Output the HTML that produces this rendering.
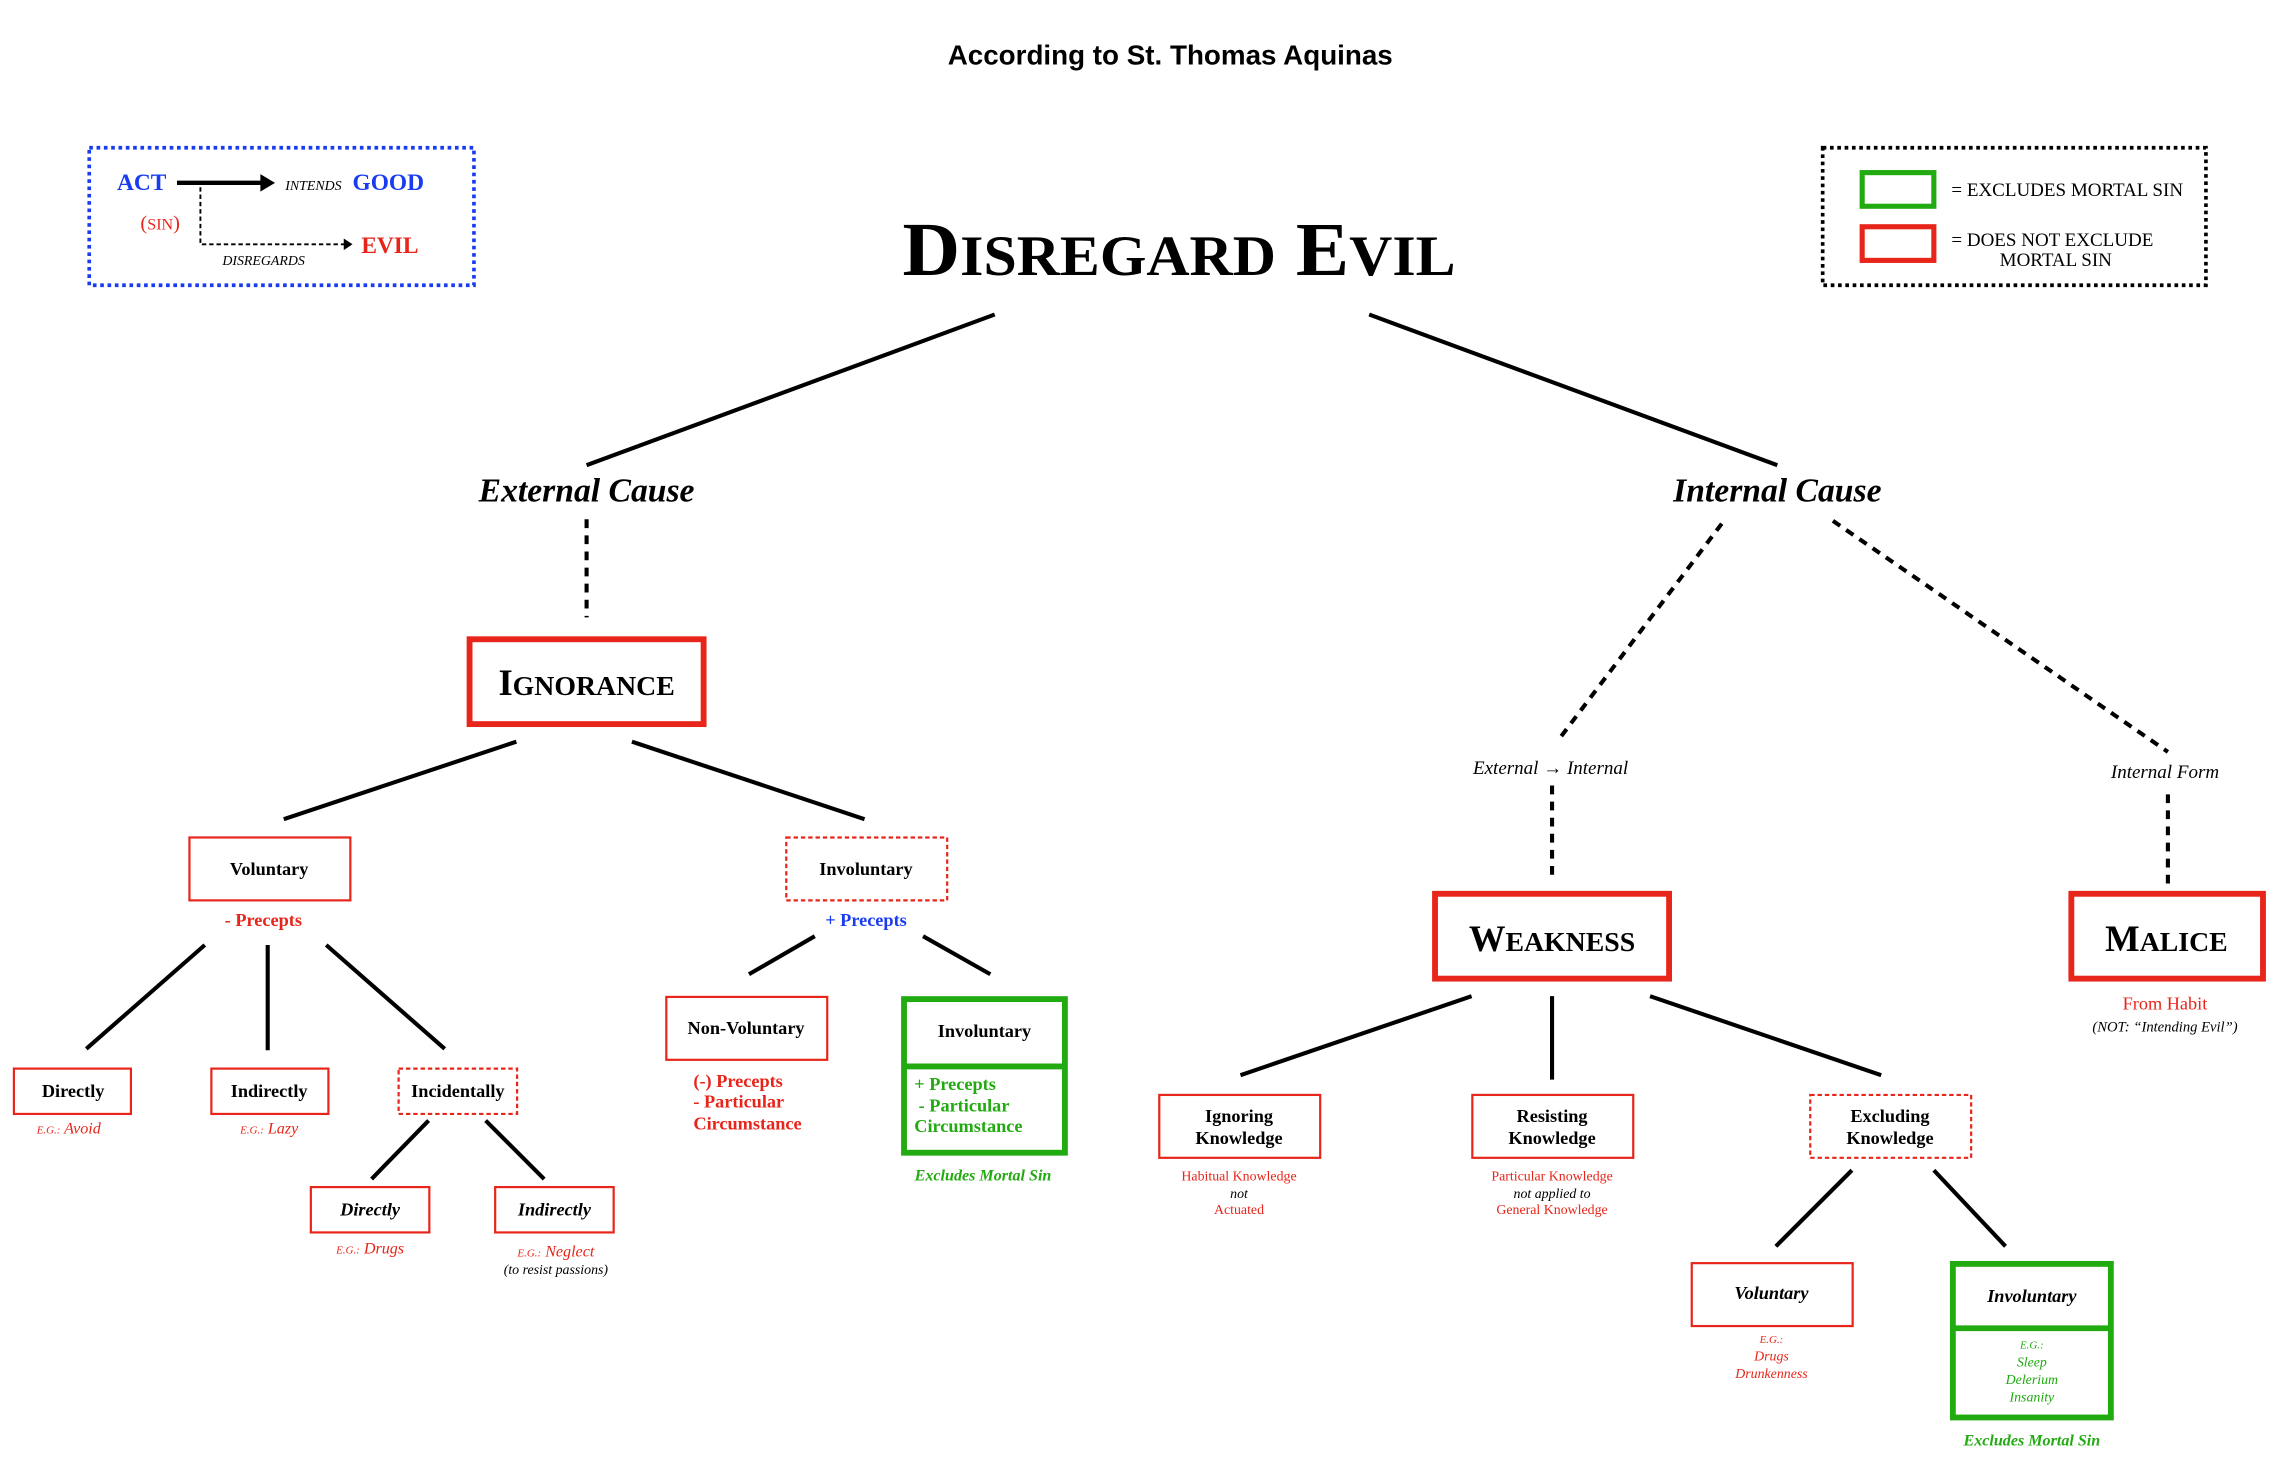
<!DOCTYPE html>
<html><head><meta charset="utf-8"><style>
html,body{margin:0;padding:0;background:#fff;}
svg{display:block;}
text{font-family:"Liberation Serif",serif;}
.s{font-family:"Liberation Sans",sans-serif;}
.b{font-weight:bold;}
.i{font-style:italic;}
.r{fill:#e8251a;}
.g{fill:#22aa11;}
.bl{fill:#1a3cf0;}
</style></head><body>
<svg width="2282" height="1458" viewBox="0 0 1560 996.7" xmlns="http://www.w3.org/2000/svg">
<rect width="1560" height="997" fill="#fff"/>
<text class="s b" x="800" y="44" font-size="19" text-anchor="middle">According to St. Thomas Aquinas</text>

<!-- left legend -->
<rect x="61" y="101" width="263" height="94" fill="none" stroke="#1a3cf0" stroke-width="2.5" stroke-dasharray="2.5,2.5"/>
<text class="b bl" x="80" y="130" font-size="16">ACT</text>
<line x1="121" y1="125" x2="180" y2="125" stroke="#000" stroke-width="3"/>
<polygon points="178,119 188,125 178,131" fill="#000"/>
<text class="i" x="195" y="130" font-size="9.5">INTENDS</text>
<text class="b bl" x="241" y="130" font-size="16">GOOD</text>
<text class="r" x="96" y="157" font-size="14">(<tspan font-size="11">SIN</tspan>)</text>
<polyline points="137,128 137,167 236,167" fill="none" stroke="#000" stroke-width="1.3" stroke-dasharray="3,2"/>
<polygon points="235,163 241,167 235,171" fill="#000"/>
<text class="i" x="152" y="181" font-size="9.5">DISREGARDS</text>
<text class="b r" x="247" y="173" font-size="16">EVIL</text>

<!-- right legend -->
<rect x="1246" y="101" width="262" height="94" fill="none" stroke="#000" stroke-width="2.5" stroke-dasharray="2.5,2.5"/>
<rect x="1273" y="118" width="49" height="23" fill="none" stroke="#22aa11" stroke-width="3.5"/>
<rect x="1273" y="155" width="49" height="23" fill="none" stroke="#e8251a" stroke-width="3.5"/>
<text x="1334" y="134" font-size="13">= EXCLUDES MORTAL SIN</text>
<text x="1334" y="168" font-size="13">= DOES NOT EXCLUDE</text>
<text x="1367" y="182" font-size="13">MORTAL SIN</text>

<!-- title -->
<text class="b" x="617" y="188" font-size="52" textLength="378" lengthAdjust="spacingAndGlyphs">D<tspan font-size="39">ISREGARD</tspan> E<tspan font-size="39">VIL</tspan></text>

<g stroke="#000" stroke-width="2.8" fill="none">
<line x1="680" y1="215" x2="401" y2="318"/>
<line x1="936" y1="215" x2="1215" y2="318"/>
<line x1="353" y1="507" x2="194" y2="560"/>
<line x1="432" y1="507" x2="591" y2="560"/>
<line x1="140" y1="646" x2="59" y2="717"/>
<line x1="183" y1="646" x2="183" y2="718"/>
<line x1="223" y1="646" x2="304" y2="717"/>
<line x1="293" y1="766" x2="254" y2="806"/>
<line x1="332" y1="766" x2="372" y2="806"/>
<line x1="557" y1="640" x2="512" y2="666"/>
<line x1="631" y1="640" x2="677" y2="666"/>
<line x1="1006" y1="681" x2="848" y2="735"/>
<line x1="1061" y1="681" x2="1061" y2="738"/>
<line x1="1128" y1="681" x2="1286" y2="735"/>
<line x1="1266" y1="800" x2="1214" y2="852"/>
<line x1="1322" y1="800" x2="1371" y2="852"/>
</g>
<g stroke="#000" stroke-width="2.8" fill="none" stroke-dasharray="6,5">
<line x1="401" y1="355" x2="401" y2="422"/>
<line x1="1177" y1="358" x2="1066" y2="505"/>
<line x1="1253" y1="356" x2="1482" y2="514"/>
<line x1="1061" y1="537" x2="1061" y2="602"/>
<line x1="1482" y1="543" x2="1482" y2="605"/>
</g>

<text class="b i" x="401" y="343" font-size="23" text-anchor="middle">External Cause</text>
<text class="b i" x="1215" y="343" font-size="23" text-anchor="middle">Internal Cause</text>

<!-- Ignorance -->
<rect x="321" y="437" width="160" height="58" fill="none" stroke="#e8251a" stroke-width="4"/>
<text class="b" x="401" y="475" font-size="25" text-anchor="middle">I<tspan font-size="19">GNORANCE</tspan></text>

<rect x="129.5" y="572.5" width="110" height="43" fill="none" stroke="#e8251a" stroke-width="1.5"/>
<text class="b" x="184" y="598" font-size="12.5" text-anchor="middle">Voluntary</text>
<text class="b r" x="180" y="633" font-size="12.5" text-anchor="middle">- Precepts</text>
<rect x="537.5" y="572.5" width="110" height="43" fill="none" stroke="#e8251a" stroke-width="1.5" stroke-dasharray="3,2"/>
<text class="b" x="592" y="598" font-size="12.5" text-anchor="middle">Involuntary</text>
<text class="b bl" x="592" y="633" font-size="12.5" text-anchor="middle">+ Precepts</text>

<rect x="9.5" y="730.5" width="80" height="31" fill="none" stroke="#e8251a" stroke-width="1.5"/>
<text class="b" x="50" y="750" font-size="12.5" text-anchor="middle">Directly</text>
<text class="i r" x="47" y="775" font-size="11" text-anchor="middle"><tspan font-size="7.5">E.G.:</tspan> Avoid</text>
<rect x="144.5" y="730.5" width="80" height="31" fill="none" stroke="#e8251a" stroke-width="1.5"/>
<text class="b" x="184" y="750" font-size="12.5" text-anchor="middle">Indirectly</text>
<text class="i r" x="184" y="775" font-size="11" text-anchor="middle"><tspan font-size="7.5">E.G.:</tspan> Lazy</text>
<rect x="272.5" y="730.5" width="81" height="31" fill="none" stroke="#e8251a" stroke-width="1.5" stroke-dasharray="3,2"/>
<text class="b" x="313" y="750" font-size="12.5" text-anchor="middle">Incidentally</text>

<rect x="212.5" y="811.5" width="81" height="31" fill="none" stroke="#e8251a" stroke-width="1.5"/>
<text class="b i" x="253" y="831" font-size="12.5" text-anchor="middle">Directly</text>
<text class="i r" x="253" y="857" font-size="11" text-anchor="middle"><tspan font-size="7.5">E.G.:</tspan> Drugs</text>
<rect x="338.5" y="811.5" width="81" height="31" fill="none" stroke="#e8251a" stroke-width="1.5"/>
<text class="b i" x="379" y="831" font-size="12.5" text-anchor="middle">Indirectly</text>
<text class="i r" x="380" y="859" font-size="11" text-anchor="middle"><tspan font-size="7.5">E.G.:</tspan> Neglect</text>
<text class="i" x="380" y="871" font-size="9.5" text-anchor="middle">(to resist passions)</text>

<rect x="455.5" y="681.5" width="110" height="43" fill="none" stroke="#e8251a" stroke-width="1.5"/>
<text class="b" x="510" y="707" font-size="12.5" text-anchor="middle">Non-Voluntary</text>
<text class="b r" x="474" y="743" font-size="12.5">(-) Precepts</text>
<text class="b r" x="474" y="757" font-size="12.5">- Particular</text>
<text class="b r" x="474" y="772" font-size="12.5">Circumstance</text>

<rect x="618" y="683" width="110" height="105" fill="none" stroke="#22aa11" stroke-width="4"/>
<line x1="618" y1="729" x2="728" y2="729" stroke="#22aa11" stroke-width="4"/>
<text class="b" x="673" y="709" font-size="12.5" text-anchor="middle">Involuntary</text>
<text class="b g" x="625" y="745" font-size="12.5">+ Precepts</text>
<text class="b g" x="628" y="760" font-size="12.5">- Particular</text>
<text class="b g" x="625" y="774" font-size="12.5">Circumstance</text>
<text class="b i g" x="672" y="807" font-size="11" text-anchor="middle">Excludes Mortal Sin</text>

<!-- right -->
<text class="i" x="1060" y="529" font-size="13" text-anchor="middle">External → Internal</text>
<text class="i" x="1480" y="532" font-size="13" text-anchor="middle">Internal Form</text>

<rect x="981" y="611" width="160" height="58" fill="none" stroke="#e8251a" stroke-width="4"/>
<text class="b" x="1061" y="650" font-size="25" text-anchor="middle">W<tspan font-size="19">EAKNESS</tspan></text>
<rect x="1416" y="611" width="131" height="58" fill="none" stroke="#e8251a" stroke-width="4"/>
<text class="b" x="1481" y="650" font-size="25" text-anchor="middle">M<tspan font-size="19">ALICE</tspan></text>
<text class="r" x="1480" y="690" font-size="12.5" text-anchor="middle">From Habit</text>
<text class="i" x="1480" y="705" font-size="10" text-anchor="middle">(NOT: “Intending Evil”)</text>

<rect x="792.5" y="748.5" width="110" height="43" fill="none" stroke="#e8251a" stroke-width="1.5"/>
<text class="b" x="847" y="767" font-size="12.5" text-anchor="middle">Ignoring</text>
<text class="b" x="847" y="782" font-size="12.5" text-anchor="middle">Knowledge</text>
<text class="r" x="847" y="807" font-size="9.5" text-anchor="middle">Habitual Knowledge</text>
<text class="i" x="847" y="819" font-size="9.5" text-anchor="middle">not</text>
<text class="r" x="847" y="830" font-size="9.5" text-anchor="middle">Actuated</text>

<rect x="1006.5" y="748.5" width="110" height="43" fill="none" stroke="#e8251a" stroke-width="1.5"/>
<text class="b" x="1061" y="767" font-size="12.5" text-anchor="middle">Resisting</text>
<text class="b" x="1061" y="782" font-size="12.5" text-anchor="middle">Knowledge</text>
<text class="r" x="1061" y="807" font-size="9.5" text-anchor="middle">Particular Knowledge</text>
<text class="i" x="1061" y="819" font-size="9.5" text-anchor="middle">not applied to</text>
<text class="r" x="1061" y="830" font-size="9.5" text-anchor="middle">General Knowledge</text>

<rect x="1237.5" y="748.5" width="110" height="43" fill="none" stroke="#e8251a" stroke-width="1.5" stroke-dasharray="3,2"/>
<text class="b" x="1292" y="767" font-size="12.5" text-anchor="middle">Excluding</text>
<text class="b" x="1292" y="782" font-size="12.5" text-anchor="middle">Knowledge</text>

<rect x="1156.5" y="863.5" width="110" height="43" fill="none" stroke="#e8251a" stroke-width="1.5"/>
<text class="b i" x="1211" y="888" font-size="12.5" text-anchor="middle">Voluntary</text>
<text class="i r" x="1211" y="918" font-size="7.5" text-anchor="middle">E.G.:</text>
<text class="i r" x="1211" y="930" font-size="9.5" text-anchor="middle">Drugs</text>
<text class="i r" x="1211" y="942" font-size="9.5" text-anchor="middle">Drunkenness</text>

<rect x="1335" y="864" width="108" height="105" fill="none" stroke="#22aa11" stroke-width="4"/>
<line x1="1335" y1="908" x2="1443" y2="908" stroke="#22aa11" stroke-width="4"/>
<text class="b i" x="1389" y="890" font-size="12.5" text-anchor="middle">Involuntary</text>
<text class="i g" x="1389" y="922" font-size="7.5" text-anchor="middle">E.G.:</text>
<text class="i g" x="1389" y="934" font-size="9.5" text-anchor="middle">Sleep</text>
<text class="i g" x="1389" y="946" font-size="9.5" text-anchor="middle">Delerium</text>
<text class="i g" x="1389" y="958" font-size="9.5" text-anchor="middle">Insanity</text>
<text class="b i g" x="1389" y="988" font-size="11" text-anchor="middle">Excludes Mortal Sin</text>
</svg>
</body></html>
